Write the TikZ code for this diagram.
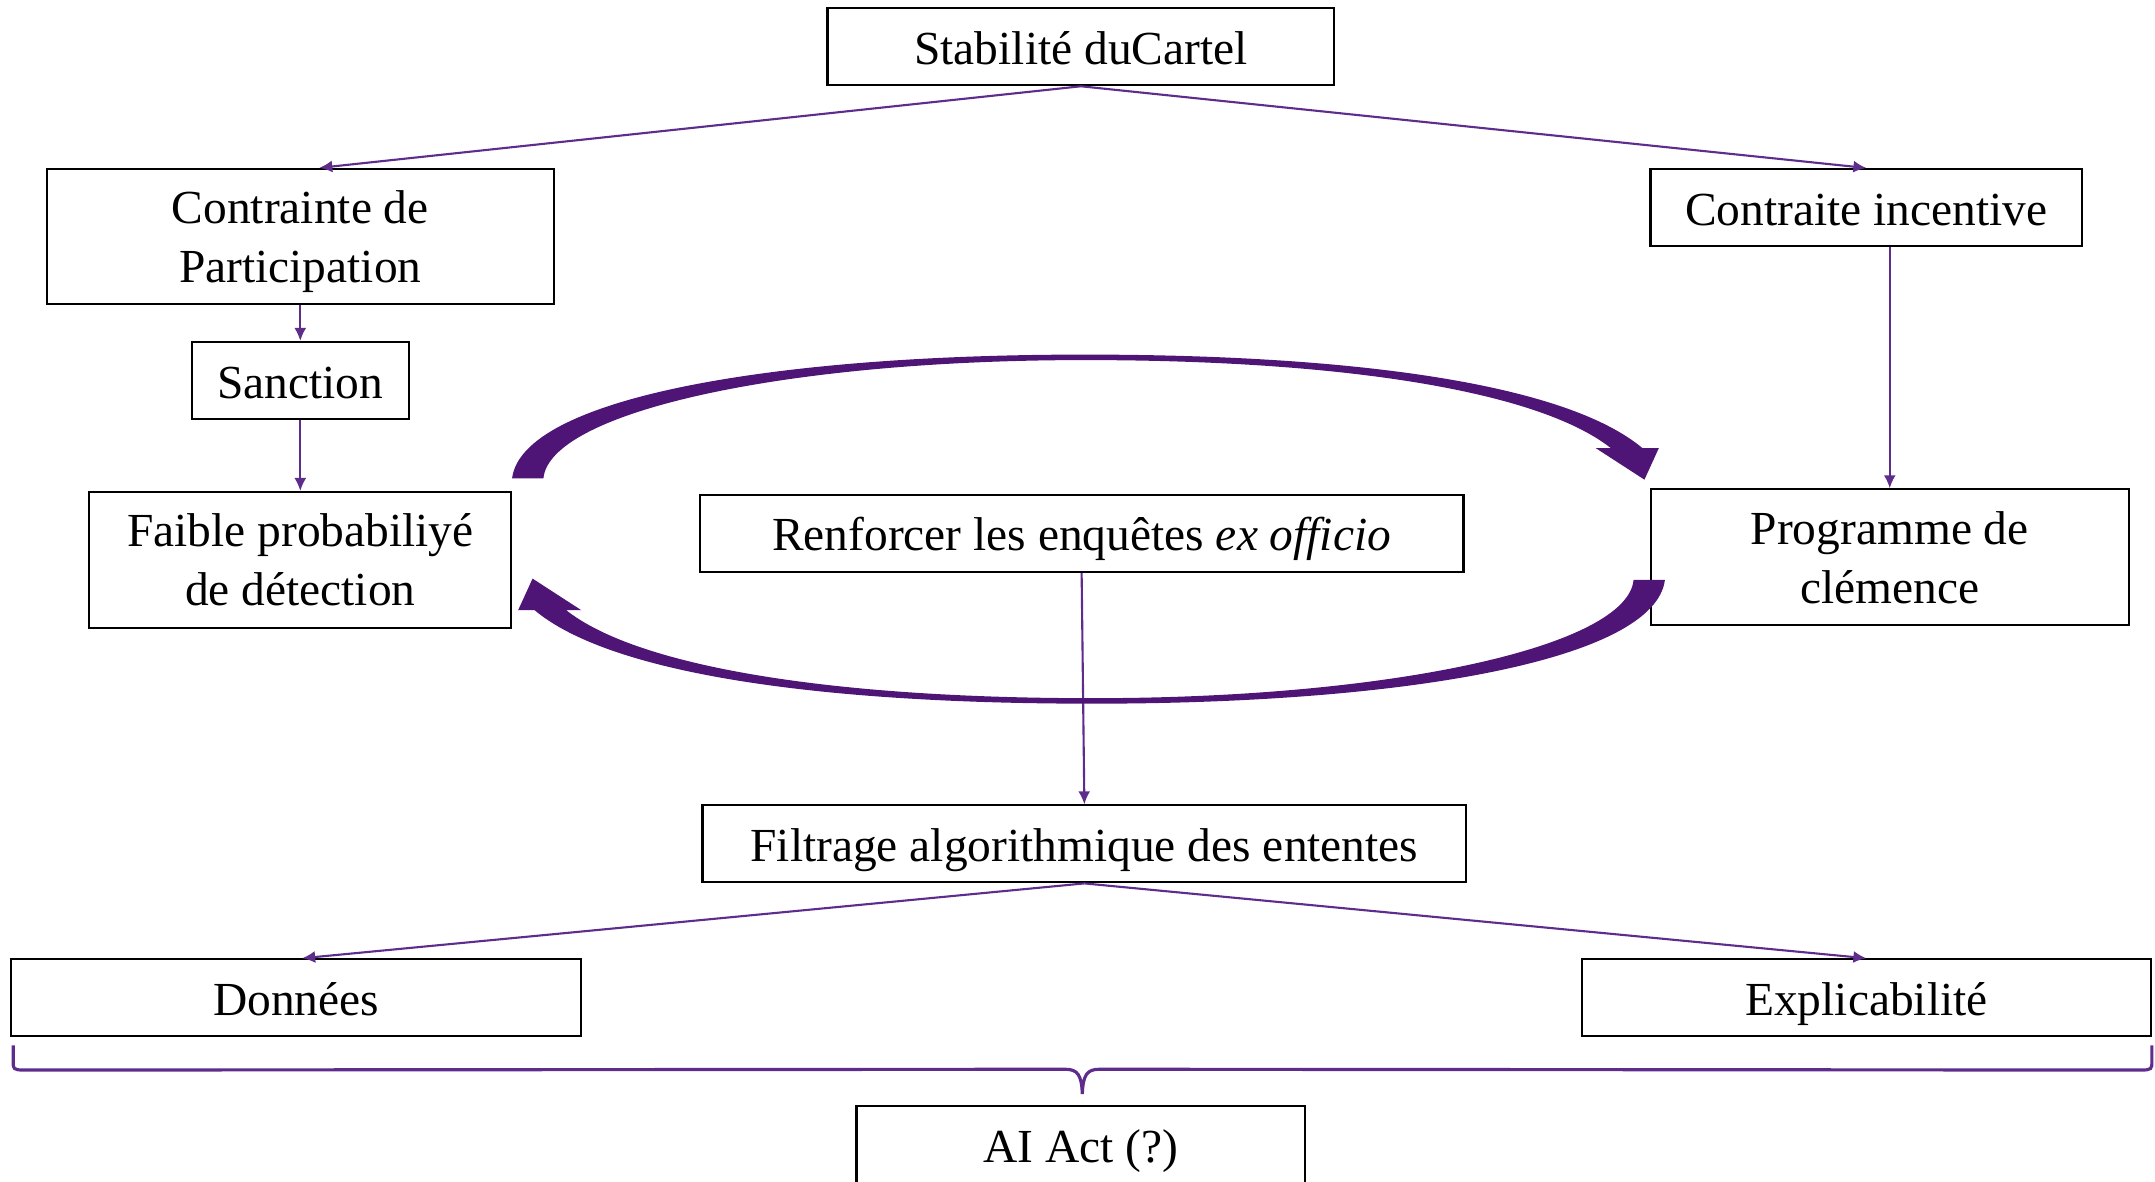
\documentclass[tikz,border=0pt]{standalone}
\usepackage{fontspec}
\setmainfont{Liberation Serif}
\usetikzlibrary{positioning,arrows.meta,calc}
\definecolor{lilas}{HTML}{5E2D8C}
\definecolor{cycl}{HTML}{4E1577}
\tikzset{
  box/.style={rectangle, draw=black, line width=0.6pt, align=center, inner sep=2pt,
              minimum height=0.77cm, text height=11pt, text depth=1pt,
              font=\fontsize{13.5}{16.8}\selectfont},
  tall/.style={rectangle, draw=black, line width=0.6pt, align=center, inner sep=2pt,
               minimum height=1.36cm, font=\fontsize{13.5}{16.8}\selectfont},
  link/.style={-{Latex[length=1.3mm,width=1.2mm]}, draw=lilas, line width=0.6pt},
  loopfill/.style={fill=cycl, draw=none}
}
\begin{document}
\begin{tikzpicture}[x=0.013744cm, y=-0.013744cm]
\useasboundingbox (0,0) rectangle (1568,860);
\node[box, minimum width=5.07cm] (stab) at (786.5,34) {Stabilité duCartel};
\node[tall, minimum width=5.07cm, minimum height=1.35cm] (part) at (218.5,172) {Contrainte de\\\smash{Participation}};
\node[box, minimum width=4.32cm] (inc) at (1358,151) {Contraite incentive};
\node[box, minimum width=2.17cm, below=0.36cm of part] (sanc) {Sanction};
\node[tall, minimum width=4.22cm, below=0.71cm of sanc] (faible) {Faible probabiliyé\\de détection};
\node[box, minimum width=7.64cm] (renf) at (787,388) {Renforcer les enquêtes \textit{ex officio}};
\node[tall, minimum width=4.78cm] (prog) at (1375,405.5) {Programme de\\clémence};
\node[box, minimum width=7.64cm] (filt) at (789,614) {Filtrage algorithmique des ententes};
\node[box, minimum width=5.70cm] (don) at (215.5,726) {Données};
\node[box, minimum width=5.69cm] (expl) at (1358,726) {Explicabilité};
\node[box, minimum width=4.49cm] (aiact) at (786.5,833) {AI Act (?)};
% thin links
\draw[link] (stab.south) -- ([xshift=0.19cm]part.north);
\draw[link] (stab.south) -- (inc.north);
\draw[link] (part.south) -- (sanc.north);
\draw[link] (sanc.south) -- (faible.north);
\draw[link] (inc.south -| prog.north) -- (prog.north);
\draw[link] (renf.south) -- (filt.north);
\draw[link] (filt.south) -- ([xshift=0.06cm]don.north);
\draw[link] (filt.south) -- (expl.north);
% the loop between detection and clemency
\foreach \r in {0,180}{
  \fill[loopfill, rotate around={\r:(792,385)}]
    (372.6,348) .. controls (380,290) and (560,258) .. (789,258)
    .. controls (990,258) and (1140,280) .. (1195,326)
    -- (1207,326) -- (1196.5,349) -- (1161,326) -- (1172,326)
    .. controls (1120,285) and (980,262) .. (789,262)
    .. controls (570,262) and (400,300) .. (395.4,348) -- cycle;
}
% brace under the two bottom boxes
\coordinate (bl) at ([xshift=0.03cm,yshift=-0.08cm]don.south west);
\coordinate (br) at ([yshift=-0.08cm]expl.south east);
\draw[lilas, line width=0.9pt]
  (bl) -- ++(0,12) .. controls +(0,5) and +(-8,0) .. ++(8,6)
  -- (775,778) .. controls (784,778) and (787,782) .. (787.5,796)
  .. controls (788,782) and (791,778) .. (800,778)
  -- ($(br)+(-8,18)$) .. controls +(8,0) and +(0,5) .. ($(br)+(0,12)$) -- (br);
\end{tikzpicture}
\end{document}
